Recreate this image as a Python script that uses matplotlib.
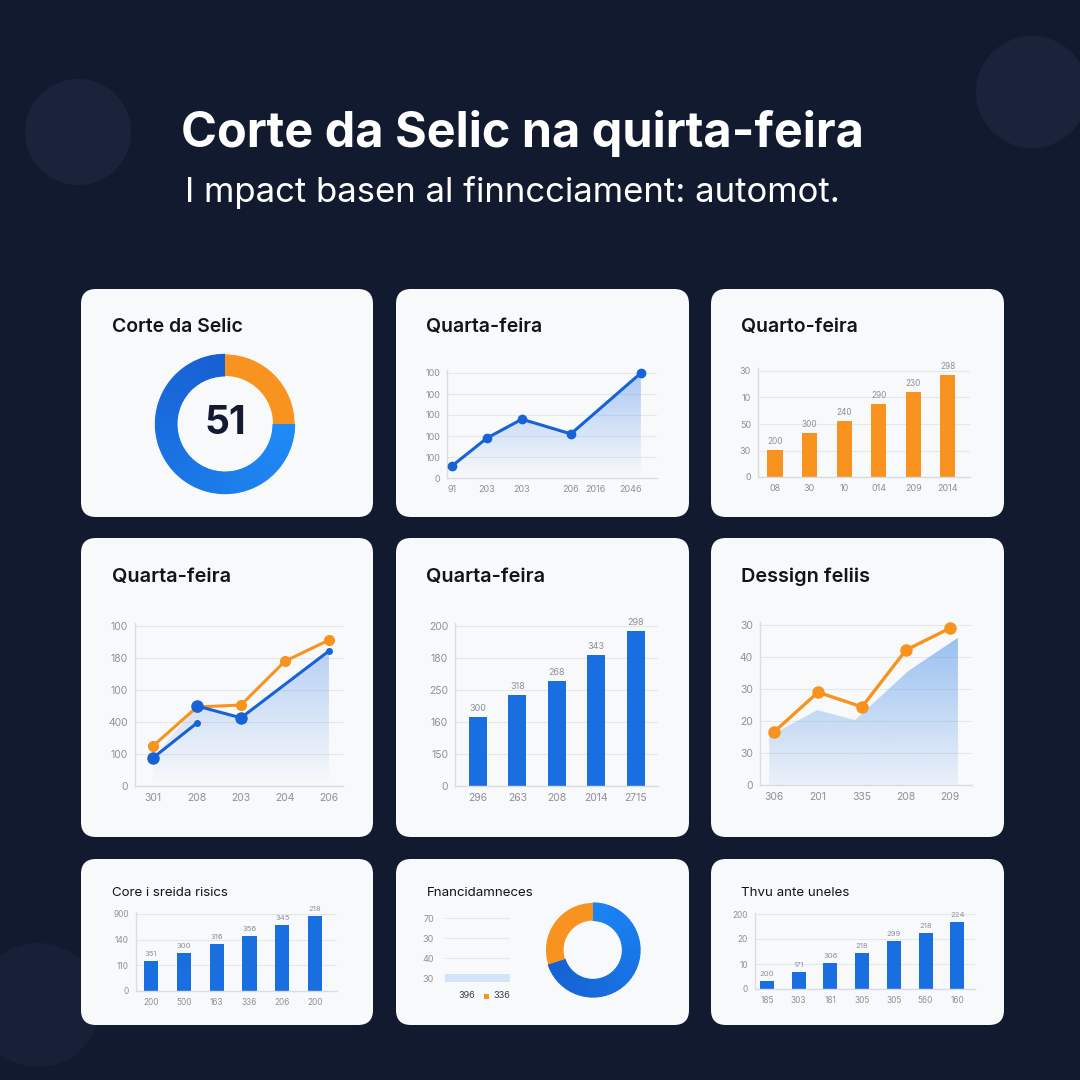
import numpy as np
import matplotlib
matplotlib.use('Agg')
import matplotlib.pyplot as plt
from matplotlib.patches import FancyBboxPatch, Circle, Rectangle, Polygon
from matplotlib.colors import to_rgb, to_hex

plt.rcParams['font.family'] = ['Inter', 'DejaVu Sans']

# ---------------- data ----------------
title = "Corte da Selic na quirta-feira"
subtitle = "I mpact basen al finncciament: automot."

p1_title = "Corte da Selic"
p1_value = "51"
p1_shares = [25, 75]

p2_title = "Quarta-feira"
p2_x = [0, 1, 2, 3.4, 5.4]
p2_y = [0.57, 1.9, 2.8, 2.1, 5.0]
p2_yticklabels = ["0", "100", "100", "100", "100", "100"]
p2_xtick_pos = [0, 1, 2, 3.4, 4.1, 5.1]
p2_xticklabels = ["91", "203", "203", "206", "2016", "2046"]

p3_title = "Quarto-feira"
p3_values = [1.02, 1.66, 2.11, 2.75, 3.2, 3.85]
p3_bar_labels = ["200", "300", "240", "290", "230", "298"]
p3_yticklabels = ["0", "30", "50", "10", "30"]
p3_xticklabels = ["08", "30", "10", "014", "209", "2014"]

p4_title = "Quarta-feira"
p4_x = [0, 1, 2, 3, 4]
p4_orange = [1.25, 2.47, 2.53, 3.9, 4.56]
p4_blue_a_x = [0, 1]
p4_blue_a = [0.88, 1.97]
p4_blue_b_x = [1, 2, 4]
p4_blue_b = [2.5, 2.13, 4.22]
p4_yticklabels = ["0", "100", "400", "100", "180", "100"]
p4_xticklabels = ["301", "208", "203", "204", "206"]

p5_title = "Quarta-feira"
p5_values = [2.16, 2.84, 3.28, 4.09, 4.84]
p5_bar_labels = ["300", "318", "268", "343", "298"]
p5_yticklabels = ["0", "150", "160", "250", "180", "200"]
p5_xticklabels = ["296", "263", "208", "2014", "2715"]

p6_title = "Dessign feliis"
p6_x = [0, 1, 2, 3, 4]
p6_orange = [1.66, 2.9, 2.44, 4.22, 4.9]
p6_area_x = [-0.11, 0.98, 1.84, 3.05, 4.18]
p6_area = [1.53, 2.34, 2.03, 3.56, 4.6]
p6_yticklabels = ["0", "30", "20", "30", "40", "30"]
p6_xticklabels = ["306", "201", "335", "208", "209"]

p7_title = "Core i sreida risics"
p7_values = [1.17, 1.48, 1.83, 2.14, 2.57, 2.92]
p7_bar_labels = ["351", "300", "316", "356", "345", "218"]
p7_yticklabels = ["0", "110", "140", "900"]
p7_xticklabels = ["200", "500", "163", "336", "206", "200"]

p8_title = "Fnancidamneces"
p8_yticklabels = ["30", "40", "30", "70"]
p8_bar_value = [1.0]
p8_legend = ["396", "336"]
p8_shares = [30, 70]

p9_title = "Thvu ante uneles"
p9_values = [0.32, 0.68, 1.04, 1.44, 1.92, 2.24, 2.68]
p9_bar_labels = ["200", "171", "306", "218", "299", "218", "224"]
p9_yticklabels = ["0", "10", "20", "200"]
p9_xticklabels = ["185", "303", "181", "305", "305", "560", "160"]

# ---------------- style ----------------
W = H = 1080
BG = '#111a2e'
CARD = '#f8f9fb'
BLUE = '#1a6fe0'
BLUE_LINE = '#1763d6'
ORANGE = '#f7931e'
GRID = '#e4e7ec'
SPINE = '#d9dde3'
TICK = '#8c9099'
DARK = '#111418'

fig = plt.figure(figsize=(10.8, 10.8), dpi=100)
fig.patch.set_facecolor(BG)

bg = fig.add_axes([0, 0, 1, 1])
bg.set_xlim(0, W)
bg.set_ylim(H, 0)
bg.axis('off')
bg.set_facecolor(BG)

# decorative circles
for (cx, cy, r, c) in [(78, 132, 53, '#1a2339'), (1032, 92, 56, '#1a2339'),
                       (38, 1005, 62, '#172036')]:
    bg.add_patch(Circle((cx, cy), r, facecolor=c, edgecolor='none', zorder=0))

bg.text(181, 147, title, color='white', fontsize=35, fontweight='bold',
        ha='left', va='baseline')
bg.text(185, 202, subtitle, color='white', fontsize=25, ha='left', va='baseline')

cards = [(81, 289, 373, 517), (396, 289, 689, 517), (711, 289, 1004, 517),
         (81, 538, 373, 837), (396, 538, 689, 837), (711, 538, 1004, 837),
         (81, 859, 373, 1025), (396, 859, 689, 1025), (711, 859, 1004, 1025)]
for (x0, y0, x1, y1) in cards:
    bg.add_patch(FancyBboxPatch((x0, y0), x1 - x0, y1 - y0,
                                boxstyle='round,pad=0,rounding_size=15',
                                facecolor=CARD, edgecolor='none', zorder=1))

card_titles = [(112, 327, p1_title, 14, 'semibold'), (426, 327, p2_title, 14, 'semibold'),
               (741, 327, p3_title, 14, 'semibold'), (112, 577, p4_title, 14.3, 'semibold'),
               (426, 577, p5_title, 14.3, 'semibold'), (741, 577, p6_title, 14.3, 'semibold'),
               (112, 893, p7_title, 9.6, 'normal'), (427, 893, p8_title, 9.6, 'normal'),
               (741, 893, p9_title, 9.6, 'normal')]
for (x, y, t, fs, fw) in card_titles:
    bg.text(x, y, t, color=DARK, fontsize=fs, fontweight=fw, ha='left', va='center', zorder=3)


def rect(x0, y0, x1, y1):
    return [x0 / W, 1 - y1 / H, (x1 - x0) / W, (y1 - y0) / H]


def chart_ax(x0, x1, ybot, ppu, ymax, xlim, ylabels, fs):
    ytop = ybot - ymax * ppu
    ax = fig.add_axes(rect(x0, ytop, x1, ybot))
    ax.set_facecolor('none')
    for s in ['top', 'right']:
        ax.spines[s].set_visible(False)
    for s in ['left', 'bottom']:
        ax.spines[s].set_color(SPINE)
        ax.spines[s].set_linewidth(1)
    ax.set_yticks(range(len(ylabels)), ylabels)
    ax.yaxis.grid(True, color=GRID, lw=0.8)
    ax.set_axisbelow(True)
    ax.tick_params(length=0, labelsize=fs, colors=TICK, pad=5)
    ax.set_xlim(*xlim)
    ax.set_ylim(0, ymax)
    return ax


def grad_fill(ax, x, y, color, a_top, a_bot):
    verts = [(x[0], 0)] + list(zip(x, y)) + [(x[-1], 0)]
    poly = Polygon(verts, closed=True, facecolor='none', edgecolor='none')
    ax.add_patch(poly)
    n = 256
    img = np.zeros((n, 1, 4))
    img[:, 0, :3] = to_rgb(color)
    img[:, 0, 3] = np.linspace(a_bot, a_top, n)
    xl, yl = ax.get_xlim(), ax.get_ylim()
    im = ax.imshow(img, extent=[min(x), max(x), 0, max(y)], origin='lower',
                   aspect='auto', zorder=1, interpolation='bilinear')
    im.set_clip_path(poly)
    ax.set_xlim(xl)
    ax.set_ylim(yl)


def mix(c1, c2, t):
    a, b = np.array(to_rgb(c1)), np.array(to_rgb(c2))
    return to_hex(a + (b - a) * t)


def donut(cx, cy, r, width, shares, colors_grad, counterclock):
    ax = fig.add_axes(rect(cx - r, cy - r, cx + r, cy + r))
    n = 40
    vals = [shares[0]] + [shares[1] / n] * n
    cols = [ORANGE] + [mix(colors_grad[0], colors_grad[1], i / (n - 1)) for i in range(n)]
    wedges, _ = ax.pie(vals, colors=cols, startangle=90, counterclock=counterclock, radius=1,
                       wedgeprops=dict(width=width / r, linewidth=0.8))
    for w, c in zip(wedges, cols):
        w.set_edgecolor(c)
    # keep the orange wedge on top so its edge is crisp
    wedges[0].set_zorder(3)
    wedges[0].set_linewidth(0)
    ax.set_xlim(-1.02, 1.02)
    ax.set_ylim(-1.02, 1.02)
    ax.set_aspect('equal')
    ax.axis('off')
    return ax


def bars(ax, values, labels, color, width, ppu, fs):
    x = np.arange(len(values))
    ax.bar(x, values, width=width, color=color, zorder=2)
    for xi, v, lab in zip(x, values, labels):
        ax.text(xi, v + 4 / ppu, lab, ha='center', va='bottom', fontsize=fs,
                color=TICK, clip_on=False)
    return x


# ---- panel 1: donut ----
d1 = donut(225, 424, 71, 22, p1_shares, ('#1e8bf6', '#175fd2'), False)
d1.text(0, 0, p1_value, ha='center', va='center', fontsize=28, fontweight='bold', color='#121a33')

# ---- panel 2: line ----
ax2 = chart_ax(447, 657, 478, 21, 5.15, (-0.14, 5.86), p2_yticklabels, 6.5)
grad_fill(ax2, p2_x, p2_y, '#2f7be6', 0.38, 0.0)
ax2.plot(p2_x, p2_y, color=BLUE_LINE, lw=2.2, marker='o', ms=6, zorder=3, clip_on=False)
ax2.set_xticks(p2_xtick_pos, p2_xticklabels)

# ---- panel 3: orange bars ----
ax3 = chart_ax(758, 970, 477, 26.5, 4.1, (-0.49, 5.64), p3_yticklabels, 6.5)
x3 = bars(ax3, p3_values, p3_bar_labels, ORANGE, 0.44, 26.5, 6)
ax3.set_xticks(x3, p3_xticklabels)

# ---- panel 4: two lines ----
ax4 = chart_ax(135, 343, 786, 32, 5.1, (-0.41, 4.32), p4_yticklabels, 7.5)
grad_fill(ax4, [0, 1, 2, 4], [0.88, 2.5, 2.13, 4.22], '#2f7be6', 0.32, 0.0)
ax4.plot(p4_x, p4_orange, color=ORANGE, lw=2.2, marker='o', ms=7, zorder=3)
ax4.plot(p4_blue_a_x, p4_blue_a, color=BLUE_LINE, lw=2.2, zorder=4)
ax4.plot(p4_blue_a_x[:1], p4_blue_a[:1], 'o', color=BLUE_LINE, ms=8, zorder=4)
ax4.plot(p4_blue_a_x[1:], p4_blue_a[1:], 'o', color=BLUE_LINE, ms=4, zorder=4)
ax4.plot(p4_blue_b_x, p4_blue_b, color=BLUE_LINE, lw=2.2, zorder=4)
ax4.plot(p4_blue_b_x[:2], p4_blue_b[:2], 'o', color=BLUE_LINE, ms=8, zorder=4)
ax4.plot(p4_blue_b_x[2:], p4_blue_b[2:], 'o', color=BLUE_LINE, ms=4, zorder=4)
ax4.set_xticks(p4_x, p4_xticklabels)

# ---- panel 5: blue bars ----
ax5 = chart_ax(455, 658, 786, 32, 5.1, (-0.58, 4.56), p5_yticklabels, 7.5)
x5 = bars(ax5, p5_values, p5_bar_labels, BLUE, 0.46, 32, 6.5)
ax5.set_xticks(x5, p5_xticklabels)

# ---- panel 6: area + orange line ----
ax6 = chart_ax(760, 972, 785, 32, 5.1, (-0.32, 4.5), p6_yticklabels, 7.5)
grad_fill(ax6, p6_area_x, p6_area, '#4d92e8', 0.55, 0.08)
ax6.plot(p6_x, p6_orange, color=ORANGE, lw=2.4, marker='o', ms=8, zorder=3, clip_on=False)
ax6.set_xticks(p6_x, p6_xticklabels)

# ---- panel 7: blue bars ----
ax7 = chart_ax(136, 337, 991, 25.7, 3.08, (-0.46, 5.67), p7_yticklabels, 6)
x7 = bars(ax7, p7_values, p7_bar_labels, BLUE, 0.43, 25.7, 5.5)
ax7.set_xticks(x7, p7_xticklabels)

# ---- panel 8: mini bar + donut ----
ax8 = fig.add_axes(rect(445, 912, 510, 986))
ax8.set_facecolor('none')
ax8.set_ylim(-0.4, 3.3)
ax8.set_xlim(0, 1)
ax8.set_yticks(range(len(p8_yticklabels)), p8_yticklabels)
ax8.set_xticks([])
ax8.yaxis.grid(True, color=GRID, lw=0.8)
ax8.set_axisbelow(True)
for s in ax8.spines.values():
    s.set_visible(False)
ax8.tick_params(length=0, labelsize=6.5, colors=TICK, pad=8)
ax8.barh([0], p8_bar_value, height=0.42, color='#d3e4f8', zorder=2)
bg.text(458, 996, p8_legend[0], fontsize=6.5, color='#333a44', ha='left', va='center', zorder=3)
bg.add_patch(Rectangle((484, 993.5), 5, 5, facecolor=ORANGE, edgecolor='none', zorder=3))
bg.text(493, 996, p8_legend[1], fontsize=6.5, color='#333a44', ha='left', va='center', zorder=3)
donut(593, 950, 48, 18, p8_shares, ('#1560d2', '#1a84f4'), True)

# ---- panel 9: blue bars ----
ax9 = chart_ax(755, 975, 989, 25, 3.05, (-0.38, 6.56), p9_yticklabels, 6)
x9 = bars(ax9, p9_values, p9_bar_labels, BLUE, 0.44, 25, 5.5)
ax9.set_xticks(x9, p9_xticklabels)

fig.savefig('out.png', dpi=100, facecolor=BG)
